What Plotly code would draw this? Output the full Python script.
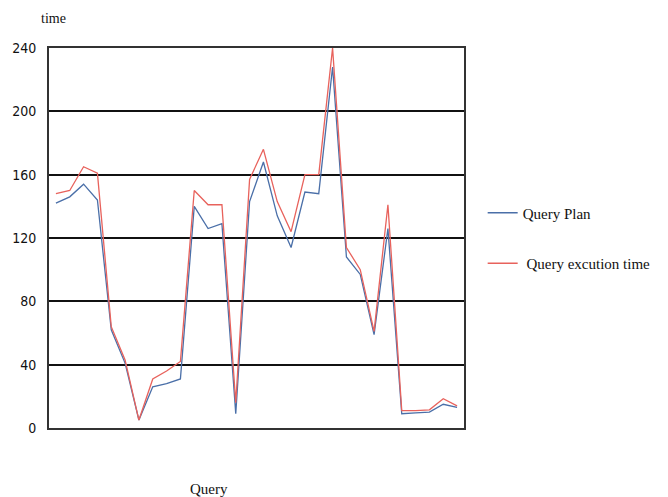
import plotly.graph_objects as go

queries = list(range(1, 31))
query_plan = [142, 146, 154, 144, 62, 41, 5, 26, 28, 31,
              140, 126, 129, 9, 143, 168, 134, 114, 149, 148,
              228, 108, 97, 59, 126, 9, 9.5, 10, 15, 13]
query_exec = [148, 150, 165, 161, 64, 43, 5, 31, 36, 42,
              150, 141, 141, 16, 157, 176, 143, 124, 160, 160,
              240, 114, 100, 61, 141, 11, 11, 11.5, 18.5, 14]
y_ticks = [0, 40, 80, 120, 160, 200, 240]

fig = go.Figure()
fig.add_trace(go.Scatter(x=queries, y=query_plan, mode="lines", name="Query Plan",
                         legendgroup="a", line=dict(color="#4a6fa8", width=1.3)))
fig.add_trace(go.Scatter(x=queries, y=query_exec, mode="lines", name="\u00a0Query excution time",
                         legendgroup="b", line=dict(color="#e8625c", width=1.3)))

fig.update_layout(
    width=668, height=497,
    margin=dict(l=46, r=202, t=48, b=69),
    paper_bgcolor="white", plot_bgcolor="white",
    showlegend=True,
    legend=dict(x=1.045, y=0.50, xanchor="left", yanchor="middle", traceorder="grouped",
                font=dict(family="Liberation Serif, Times New Roman, serif", size=15, color="#111"),
                tracegroupgap=28, bgcolor="rgba(0,0,0,0)"),
    xaxis=dict(range=[0.5, 30.5], showticklabels=False, showgrid=False, zeroline=False,
               showline=True, linecolor="#333", linewidth=2, mirror=True, ticks=""),
    yaxis=dict(range=[0, 240], tickvals=y_ticks, showgrid=True, gridcolor="#111", gridwidth=2,
               zeroline=False, showline=True, linecolor="#333", linewidth=2, mirror=True,
               ticks="", ticklabelstandoff=8,
               tickfont=dict(family="DejaVu Sans Condensed, Liberation Sans Narrow, Liberation Sans, sans-serif",
                             size=14, color="#111")),
    annotations=[
        dict(text="time", xref="paper", yref="paper", x=-0.025, y=1.052, xanchor="left", yanchor="bottom",
             showarrow=False, font=dict(family="Liberation Serif, Times New Roman, serif", size=14, color="#111")),
        dict(text="Query", xref="paper", yref="paper", x=0.385, y=-0.135, xanchor="center", yanchor="top",
             showarrow=False, font=dict(family="Liberation Serif, Times New Roman, serif", size=15, color="#111")),
    ],
)

fig.write_html("out.html", config={"displayModeBar": False},
               post_script="document.body.style.margin='0';")
